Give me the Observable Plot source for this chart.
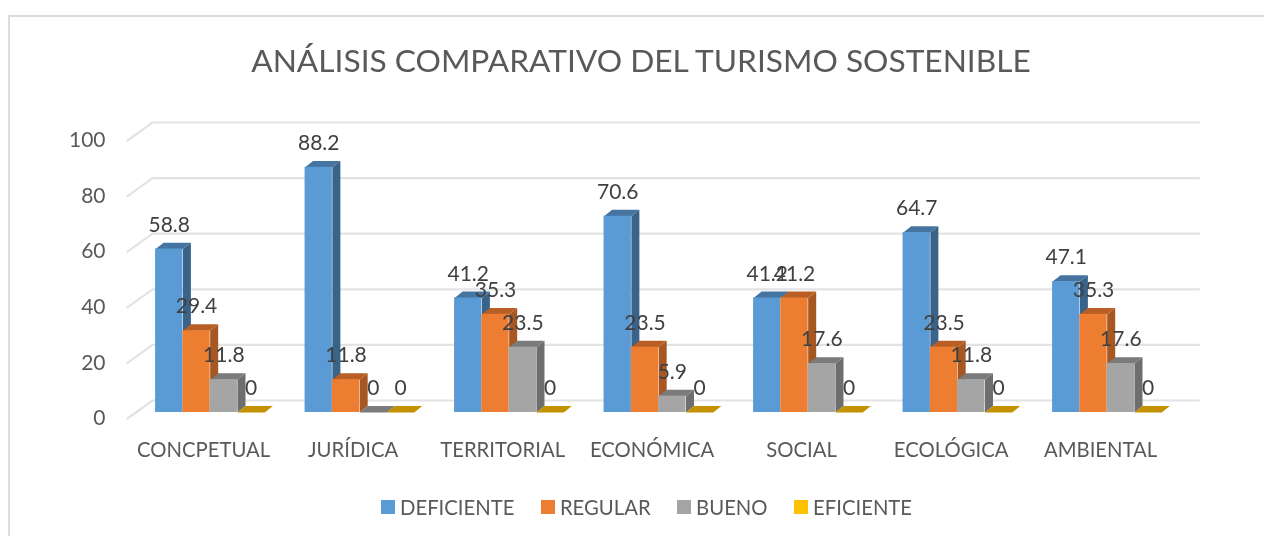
<!DOCTYPE html>
<html lang="es">
<head>
<meta charset="utf-8">
<script src="https://cdn.jsdelivr.net/npm/d3@7"></script>
<script src="https://cdn.jsdelivr.net/npm/@observablehq/plot@0.6"></script>
<style>
html,body{margin:0;padding:0;background:#fff;}
#page{position:relative;width:1264px;height:536px;overflow:hidden;font-family:Lato,"Open Sans",sans-serif;color:#595959;filter:blur(.45px);}
#frame{position:absolute;left:8px;top:15px;width:1400px;height:700px;border:2px solid #dcdcdc;box-sizing:border-box;pointer-events:none;}
#title{height:100px;box-sizing:border-box;padding-top:37px;text-align:center;font-size:31.7px;line-height:46px;padding-left:18px;white-space:nowrap;}
#chart svg{display:block;}
#legend{display:flex;height:54px;align-items:center;padding-left:381px;font-size:20.3px;box-sizing:border-box;}
#legend .it{display:flex;align-items:center;margin-right:26.5px;}
#legend .sw{width:14px;height:14px;margin-right:5px;display:inline-block;}
</style>
</head>
<body>
<div id="page">
  <div id="frame"></div>
  <div id="title">ANÁLISIS COMPARATIVO DEL TURISMO SOSTENIBLE</div>
  <div id="chart"></div>
  <div id="legend"></div>
</div>
<script>
const categories = ["CONCPETUAL","JURÍDICA","TERRITORIAL","ECONÓMICA","SOCIAL","ECOLÓGICA","AMBIENTAL"];
const deficiente = [58.8,88.2,41.2,70.6,41.2,64.7,47.1];
const regular    = [29.4,11.8,35.3,23.5,41.2,23.5,35.3];
const bueno      = [11.8,0,23.5,5.9,17.6,11.8,17.6];
const eficiente  = [0,0,0,0,0,0,0];
const yTicks = [0,20,40,60,80,100];

const series = [
  {name:"DEFICIENTE", values:deficiente, front:"#5B9BD5", side:"#3A638A", top:"#44749F"},
  {name:"REGULAR",    values:regular,    front:"#ED7D31", side:"#A65722", top:"#B95F25"},
  {name:"BUENO",      values:bueno,      front:"#A5A5A5", side:"#6E6E6E", top:"#7B7B7B"},
  {name:"EFICIENTE",  values:eficiente,  front:"#FFC000", side:"#B38600", top:"#C49200"}
];

// pseudo-3D projection, expressed in scale units
const xMin = -0.516, xMax = 6.484;      // floor extent
const wallDx = 0.1674, wallDy = 6.47;   // floor depth
const barStart = -0.3282, barW = 0.1826;
const baseDy = 2.16;                    // bars stand a little behind the front edge
const barDx = 0.0536, barDy = 2.3;      // thickness of each bar

const gridRows = yTicks.flatMap(v => [
  {g:v, x:xMin, y:v},
  {g:v, x:xMin + wallDx, y:v + wallDy},
  {g:v, x:xMax + wallDx, y:v + wallDy}
]);

const marks = [
  Plot.line(gridRows, {x:"x", y:"y", z:"g", stroke:"#e3e3e3", strokeWidth:2.2}),
  Plot.axisY({ticks:yTicks, tickSize:0, tickPadding:22, fontSize:21, label:null}),
  Plot.axisX({ticks:d3.range(categories.length), tickFormat:i => categories[i], tickSize:0, tickPadding:24, fontSize:20.3, dx:-1, label:null})
];

const labels = [];
series.forEach((s, si) => {
  const rows = s.values.map((v, i) => {
    const x0 = i + barStart + si * barW, x1 = x0 + barW, top = v + baseDy;
    labels.push({x:(x0 + x1) / 2, y:top, text:String(v)});
    return {i, x0, x1, top, v};
  });
  const sidePts = rows.flatMap(r => [
    {k:r.i, x:r.x1, y:baseDy},
    {k:r.i, x:r.x1 + barDx, y:baseDy + barDy},
    {k:r.i, x:r.x1 + barDx, y:r.top + barDy},
    {k:r.i, x:r.x1, y:r.top}
  ]);
  const topPts = rows.flatMap(r => [
    {k:r.i, x:r.x0, y:r.top},
    {k:r.i, x:r.x1, y:r.top},
    {k:r.i, x:r.x1 + barDx, y:r.top + barDy},
    {k:r.i, x:r.x0 + barDx, y:r.top + barDy}
  ]);
  marks.push(
    Plot.line(sidePts, {x:"x", y:"y", z:"k", fill:s.side, stroke:null}),
    Plot.line(topPts,  {x:"x", y:"y", z:"k", fill:s.top,  stroke:null}),
    Plot.rect(rows, {x1:"x0", x2:"x1", y1:() => baseDy, y2:"top", fill:s.front, inset:0})
  );
});
marks.push(Plot.text(labels, {x:"x", y:"y", text:"text", dy:-24, fontSize:21, fill:"#404040"}));

const chart = Plot.plot({
  width:1264, height:380,
  marginLeft:127, marginRight:90.5, marginTop:40, marginBottom:62,
  style:{fontFamily:'Lato,"Open Sans",sans-serif', color:"#595959", background:"transparent", overflow:"visible"},
  x:{domain:[xMin, xMax]},
  y:{domain:[0,100]},
  marks
});
document.getElementById("chart").append(chart);

const legend = document.getElementById("legend");
series.forEach(s => {
  const it = document.createElement("span"); it.className = "it";
  const sw = document.createElement("span"); sw.className = "sw"; sw.style.background = s.front;
  it.append(sw, document.createTextNode(s.name));
  legend.append(it);
});
</script>
</body>
</html>
